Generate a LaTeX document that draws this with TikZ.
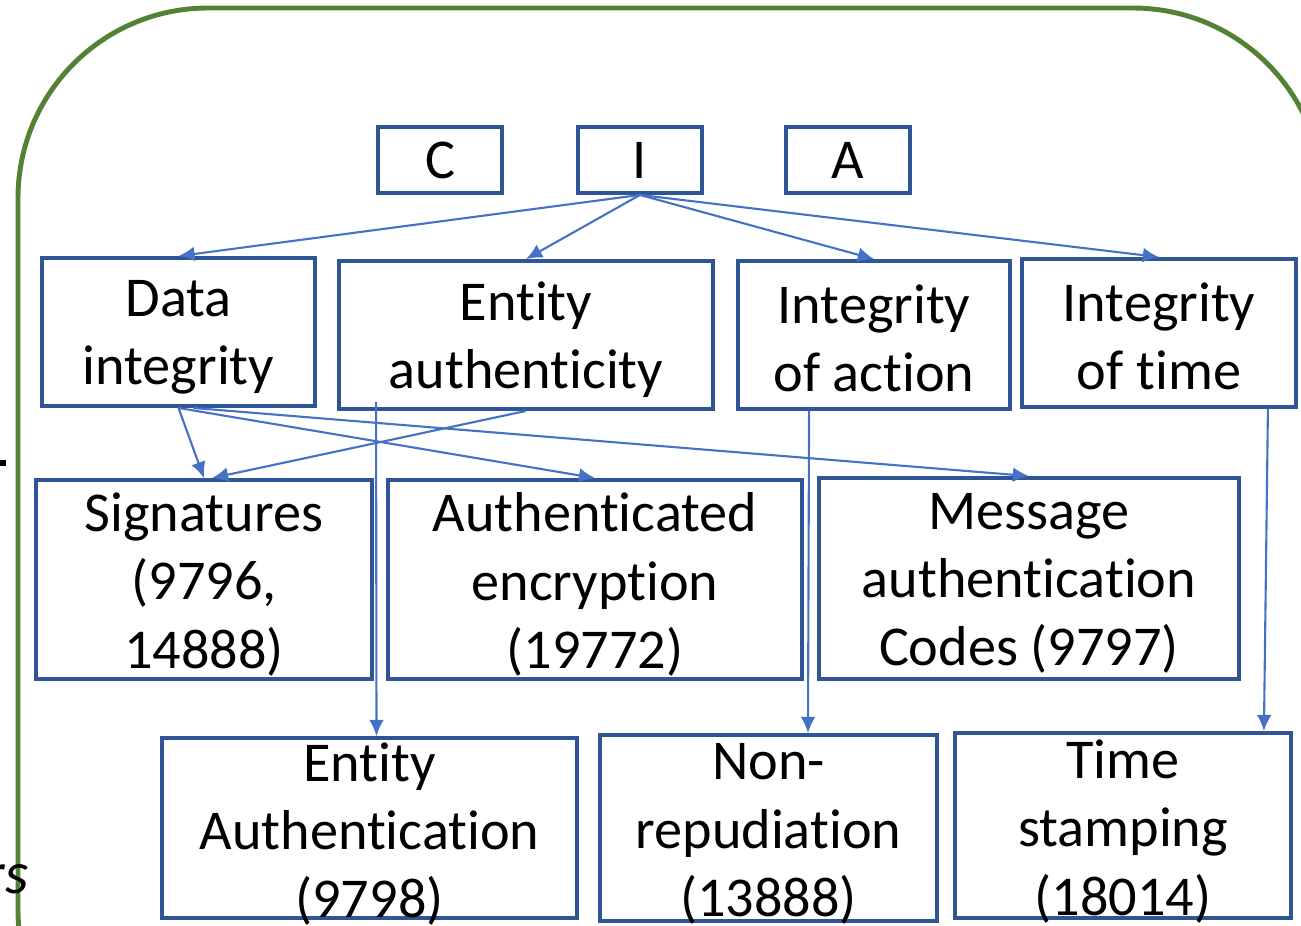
\documentclass[tikz,border=0pt]{standalone}
\usepackage{fontspec}
\setmainfont{Carlito}[Ligatures=NoCommon]
\usetikzlibrary{arrows.meta}
\definecolor{framegreen}{HTML}{548235}
\definecolor{boxblue}{HTML}{2F5597}
\definecolor{arrowblue}{HTML}{4472C4}

\begin{document}
\begin{tikzpicture}[
  box/.style={draw=boxblue, line width=1.1pt, inner sep=0pt},
  txt/.style={align=center, font=\fontsize{16pt}{19.4pt}\selectfont},
  arr/.style={draw=arrowblue, line width=0.6pt, >={Latex[length=4.6pt,width=4.2pt]}, ->}
]

  \useasboundingbox (0,0) rectangle (13.01,-9.26);
  \clip (0,0) rectangle (13.01,-9.26);

  % outer frame and cut-off bits of the slide
  \draw[framegreen, line width=1.4pt, rounded corners=1.9cm] (0.18,-0.08) rectangle (13.23,-11);
  \fill (0,-4.60) rectangle (0.06,-4.66);
  \node[anchor=base east, font=\fontsize{17pt}{20pt}\selectfont\itshape, inner sep=0pt] (rs) at (0.29,-8.93) {rs};

  % C I A
  \node[box, txt, minimum width=1.24cm, minimum height=0.66cm] (c) at (4.40,-1.60) {C};
  \node[box, txt, minimum width=1.24cm, minimum height=0.66cm] (i) at (6.40,-1.60) {I};
  \node[box, txt, minimum width=1.24cm, minimum height=0.66cm] (a) at (8.48,-1.60) {A};

  % properties
  \node[box, minimum width=2.73cm, minimum height=1.48cm] (dataint) at (1.785,-3.32) {};
  \node[txt] (dataint-t) at ([yshift=-0.05cm]dataint) {Data\\integrity};
  \node[box, minimum width=3.74cm, minimum height=1.48cm] (entity) at (5.26,-3.35) {};
  \node[txt] (entity-t) at ([yshift=-0.05cm]entity) {Entity\\authenticity};
  \node[box, minimum width=2.72cm, minimum height=1.48cm] (intact) at (8.74,-3.35) {};
  \node[txt] (intact-t) at ([yshift=-0.03cm]intact) {Integrity\\of action};
  \node[box, minimum width=2.74cm, minimum height=1.48cm] (inttime) at (11.59,-3.33) {};
  \node[txt] (inttime-t) at ([yshift=-0.03cm]inttime) {Integrity\\of time};

  % mechanisms
  \node[box, minimum width=3.36cm, minimum height=1.99cm] (sig) at (2.04,-5.795) {};
  \node[txt] (sig-t) at ([yshift=-0.05cm]sig) {Signatures\\(9796,\\14888)};
  \node[box, minimum width=4.14cm, minimum height=1.99cm] (authenc) at (5.95,-5.795) {};
  \node[txt] (authenc-t) at ([yshift=-0.05cm]authenc) {Authenticated\\encryption\\(19772)};
  \node[box, minimum width=4.20cm, minimum height=2.01cm] (mac) at (10.29,-5.785) {};
  \node[txt] (mac-t) at ([yshift=-0.05cm]mac) {Message\\authentication\\Codes (9797)};

  \node[box, minimum width=4.15cm, minimum height=1.80cm] (entauthn) at (3.695,-8.28) {};
  \node[txt] (entauthn-t) at ([yshift=-0.06cm]entauthn) {Entity\\Authentication\\(9798)};
  \node[box, minimum width=3.37cm, minimum height=1.86cm] (nonrep) at (7.685,-8.28) {};
  \node[txt] (nonrep-t) at ([yshift=-0.06cm]nonrep) {Non-\\repudiation\\(13888)};
  \node[box, minimum width=3.36cm, minimum height=1.85cm] (timest) at (11.23,-8.255) {};
  \node[txt] (timest-t) at ([yshift=-0.06cm]timest) {Time\\stamping\\(18014)};

  % connectors
  \draw[arr] (i.south) -- (dataint.north);
  \draw[arr] (i.south) -- (entity.north);
  \draw[arr] (i.south) -- (intact.north);
  \draw[arr] (i.south) -- (inttime.north);

  \draw[arr] (dataint.south) -- (sig.north);
  \draw[arr] (dataint.south) -- (authenc.north);
  \draw[arr] ([xshift=0.15cm]dataint.south) -- (mac.north);
  \draw[arr] (entity.south) -- ([xshift=0.08cm]sig.north);

  \draw[arr] ([shift={(0.39,0.09)}]entity.south west) -- ([xshift=0.07cm]entauthn.north);
  \draw[arr] ([xshift=0.73cm]intact.south west) -- ([xshift=0.395cm]nonrep.north);
  \draw[arr] ([xshift=-0.30cm]inttime.south east) -- ([xshift=-0.29cm]timest.north east);

\end{tikzpicture}
\end{document}
